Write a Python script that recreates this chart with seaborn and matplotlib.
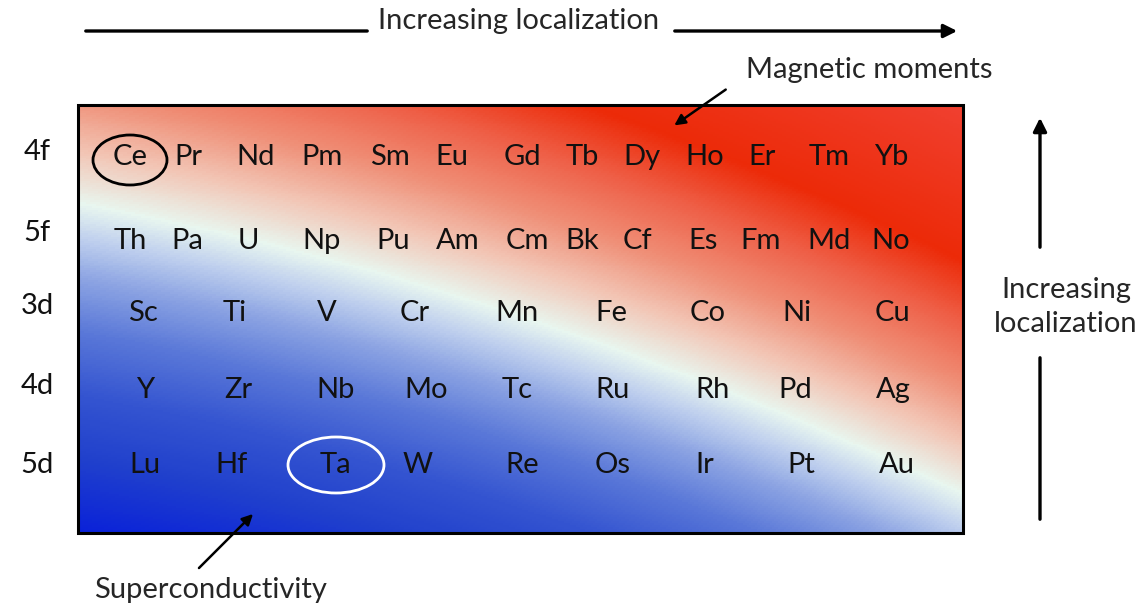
import numpy as np
import matplotlib
matplotlib.use("Agg")
import matplotlib.pyplot as plt
from matplotlib.colors import LinearSegmentedColormap
from matplotlib.patches import Ellipse, Rectangle
import seaborn as sns

# element rows (top to bottom) and their labels
row_labels = ["4f", "5f", "3d", "4d", "5d"]
row_4f = ["Ce", "Pr", "Nd", "Pm", "Sm", "Eu", "Gd", "Tb", "Dy", "Ho", "Er", "Tm", "Yb"]
row_5f = ["Th", "Pa", "U", "Np", "Pu", "Am", "Cm", "Bk", "Cf", "Es", "Fm", "Md", "No"]
row_3d = ["Sc", "Ti", "V", "Cr", "Mn", "Fe", "Co", "Ni", "Cu"]
row_4d = ["Y", "Zr", "Nb", "Mo", "Tc", "Ru", "Rh", "Pd", "Ag"]
row_5d = ["Lu", "Hf", "Ta", "W", "Re", "Os", "Ir", "Pt", "Au"]
rows = [row_4f, row_5f, row_3d, row_4d, row_5d]
circled_dark = "Ce"
circled_light = "Ta"

# layout (pixel coords of the figure, y down)
W, H = 1145, 607
box = (78, 105, 963, 533)  # left, top, right, bottom
row_y = [157, 241, 313, 390, 465]
label_y = [152, 233, 306, 386, 465]
col_x = [
    [130, 188, 256, 322, 390, 452, 522, 582, 642, 705, 762, 829, 891],
    [130, 187, 248, 322, 393, 458, 527, 582, 637, 703, 761, 829, 891],
    [143, 235, 327, 415, 517, 611, 708, 797, 892],
    [145, 238, 336, 426, 517, 613, 713, 795, 893],
    [145, 232, 335, 418, 522, 613, 705, 801, 897],
]
FS = 21

sns.set_theme(style="white")
plt.rcParams["font.family"] = ["Lato", "DejaVu Sans"]

fig = plt.figure(figsize=(W / 100, H / 100), dpi=100)

# gradient background drawn as a heatmap in the box
l, t, r, b = box
ax_bg = fig.add_axes([l / W, (H - b) / H, (r - l) / W, (b - t) / H])
fx = np.linspace(0, 1, 450)
fy = np.linspace(0, 1, 220)
FX, FY = np.meshgrid(fx, fy)
d = FY - (0.23 + 0.38 * FX + 0.30 * FX ** 2)
nodes = [(-0.91, "#f04030"), (-0.55, "#ec2a08"), (-0.40, "#ee6048"), (-0.25, "#ef9078"),
         (-0.12, "#f2c6b6"), (0.0, "#e8f6ef"), (0.08, "#c0d0ee"), (0.18, "#8aa2e2"),
         (0.3, "#5a78d8"), (0.45, "#3454d0"), (0.6, "#2040cc"), (0.77, "#0a22d8")]
lo, hi = nodes[0][0], nodes[-1][0]
cmap = LinearSegmentedColormap.from_list(
    "loc", [((v - lo) / (hi - lo), c) for v, c in nodes])
sns.heatmap(d, ax=ax_bg, cmap=cmap, vmin=lo, vmax=hi, cbar=False,
            xticklabels=False, yticklabels=False)
ax_bg.set_axis_off()

# overlay for all text and arrows
ax = fig.add_axes([0, 0, 1, 1], facecolor="none")
ax.set_xlim(0, W)
ax.set_ylim(H, 0)
ax.set_axis_off()

ax.add_patch(Rectangle((l, t), r - l, b - t, fill=False, ec="black", lw=2.2))

for names, xs, y in zip(rows, col_x, row_y):
    for name, x in zip(names, xs):
        ax.text(x, y, name, ha="center", va="center", fontsize=FS, color="#111111")
        if name == circled_dark:
            ax.add_patch(Ellipse((x, y + 3), 74, 50, fill=False, ec="black", lw=2))
        if name == circled_light:
            ax.add_patch(Ellipse((x + 1, y), 96, 56, fill=False, ec="white", lw=2))

for lab, y in zip(row_labels, label_y):
    ax.text(37, y, lab, ha="center", va="center", fontsize=FS, color="#111111")

arrow = dict(arrowstyle="-|>", color="black", lw=2.4, mutation_scale=20)
plain = dict(arrowstyle="-", color="black", lw=2.4)

# top arrow
ax.text(519, 21, "Increasing localization", ha="center", va="center", fontsize=FS)
ax.annotate("", xy=(370, 31), xytext=(83, 31), arrowprops=plain)
ax.annotate("", xy=(960, 31), xytext=(672, 31), arrowprops=arrow)

# right arrow
ax.text(1066, 307, "Increasing\nlocalization", ha="center", va="center",
        fontsize=FS, linespacing=1.4)
ax.annotate("", xy=(1040, 115), xytext=(1040, 250), arrowprops=arrow)
ax.annotate("", xy=(1040, 355), xytext=(1040, 522), arrowprops=plain)

# callouts
ax.text(869, 70, "Magnetic moments", ha="center", va="center", fontsize=FS)
ax.annotate("", xy=(672, 127), xytext=(728, 88),
            arrowprops=dict(arrowstyle="-|>", color="black", lw=1.8, mutation_scale=16))
ax.text(210, 590, "Superconductivity", ha="center", va="center", fontsize=FS)
ax.annotate("", xy=(255, 512), xytext=(197, 570),
            arrowprops=dict(arrowstyle="-|>", color="black", lw=1.8, mutation_scale=16))

fig.savefig("out.png", dpi=100)
